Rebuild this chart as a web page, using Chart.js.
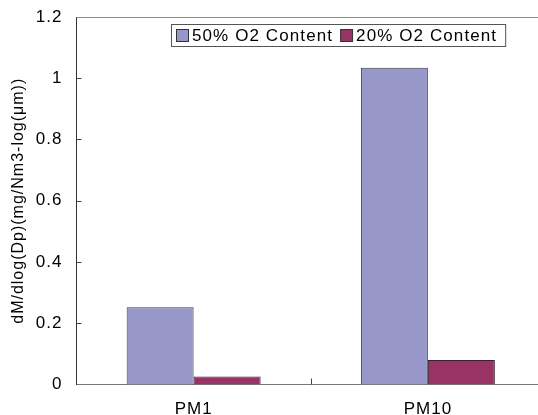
<!DOCTYPE html>
<html>
<head>
<meta charset="utf-8">
<script src="https://cdn.jsdelivr.net/npm/chart.js@4.4.1/dist/chart.umd.min.js"></script>
<style>
  html, body { margin: 0; padding: 0; background: #fff; }
  #wrap { width: 538px; height: 415px; overflow: hidden; }
</style>
</head>
<body>
<div id="wrap"><canvas id="pmChart" width="560" height="415"></canvas></div>
<script>
const categories = ['PM1', 'PM10'];
const seriesNames = ['50% O2 Content', '20% O2 Content'];
const o2High = [0.252, 1.034];
const o2Low = [0.026, 0.080];
const yTicks = ['0', '0.2', '0.4', '0.6', '0.8', '1', '1.2'];

const FONT = 'Liberation Sans, Arial, sans-serif';
const SPACING = '1px';

// loose glyph spacing, set again whenever the canvas state gets reset
const spacingPlugin = {
    id: 'spacing',
    beforeUpdate(chart) { chart.ctx.letterSpacing = SPACING; },
    beforeDraw(chart) { chart.ctx.letterSpacing = SPACING; }
};

// pin the plot rectangle: top edge at 17px, bottom axis at 384.5px
const areaPlugin = {
    id: 'area',
    afterLayout(chart) {
        const a = chart.chartArea;
        const ys = chart.scales.y;
        a.top = 17;
        a.height = a.bottom - a.top;
        ys.top = a.top;
        ys.height = a.bottom - a.top;
        ys.configure();
    }
};

// frame line on top plus the small inward tick marks
const framePlugin = {
    id: 'frame',
    afterDatasetsDraw(chart) {
        const ctx = chart.ctx;
        const area = chart.chartArea;
        const ys = chart.scales.y;
        const xs = chart.scales.x;
        ctx.save();
        ctx.lineWidth = 1;
        ctx.strokeStyle = '#8a8a8a';
        ctx.beginPath();
        ctx.moveTo(area.left, Math.round(area.top) + 0.5);
        ctx.lineTo(area.right, Math.round(area.top) + 0.5);
        ctx.stroke();

        ctx.strokeStyle = '#444';
        ctx.beginPath();
        for (let i = 1; i < yTicks.length - 1; i++) {
            const py = Math.round(ys.getPixelForValue(Number(yTicks[i]))) + 0.5;
            ctx.moveTo(area.left, py);
            ctx.lineTo(area.left + 5, py);
        }
        for (let i = 0; i < categories.length - 1; i++) {
            const px = Math.round(xs.getPixelForValue(i + 0.5)) + 0.5;
            ctx.moveTo(px, area.bottom);
            ctx.lineTo(px, area.bottom - 6);
        }
        ctx.stroke();
        ctx.restore();
    }
};

// boxed legend sitting inside the plot
const boxLegend = {
    id: 'boxLegend',
    afterDraw(chart) {
        const ctx = chart.ctx;
        ctx.save();
        ctx.letterSpacing = '1.1px';
        ctx.font = '17px ' + FONT;
        ctx.textBaseline = 'alphabetic';
        const x0 = 171, y0 = 24, h = 22, sw = 12;
        let x = x0 + 5;
        const items = chart.data.datasets.map(ds => {
            const it = { ds: ds, sx: x, tx: x + sw + 4 };
            x = it.tx + ctx.measureText(ds.label).width + 7;
            return it;
        });
        const w = x - x0 + 1;
        ctx.fillStyle = '#fff';
        ctx.fillRect(x0, y0, w, h);
        ctx.strokeStyle = '#555';
        ctx.lineWidth = 1;
        ctx.strokeRect(x0 + 0.5, y0 + 0.5, w, h);
        items.forEach(it => {
            ctx.fillStyle = it.ds.backgroundColor;
            ctx.fillRect(it.sx + 0.5, y0 + 5.5, sw, sw);
            ctx.strokeStyle = '#333';
            ctx.strokeRect(it.sx + 0.5, y0 + 5.5, sw, sw);
            ctx.fillStyle = '#000';
            ctx.fillText(it.ds.label, it.tx, y0 + 17);
        });
        ctx.restore();
    }
};

new Chart(document.getElementById('pmChart'), {
    type: 'bar',
    data: {
        labels: categories,
        datasets: [{
            label: seriesNames[0],
            data: o2High,
            backgroundColor: '#9797c9',
            borderColor: '#3a3a4a',
            borderWidth: 1
        }, {
            label: seriesNames[1],
            data: o2Low,
            backgroundColor: '#993366',
            borderColor: '#3a2230',
            borderWidth: 1
        }]
    },
    plugins: [spacingPlugin, areaPlugin, framePlugin, boxLegend],
    options: {
        responsive: false,
        animation: false,
        devicePixelRatio: 1,
        layout: { padding: { left: 0, top: 17, right: 15, bottom: 0 } },
        datasets: { bar: { categoryPercentage: 0.572, barPercentage: 1 } },
        plugins: {
            legend: { display: false },
            tooltip: { enabled: false }
        },
        scales: {
            x: {
                afterFit(scale) { scale.height = 30.5; },
                grid: { display: false, drawTicks: false },
                border: { display: true, color: '#777', width: 1 },
                ticks: {
                    color: '#000',
                    padding: 15,
                    font: { family: FONT, size: 17 }
                }
            },
            y: {
                min: 0,
                max: 1.2,
                afterFit(scale) { scale.width = 76.5; },
                afterBuildTicks(scale) {
                    scale.ticks = yTicks.map(t => ({ value: Number(t) }));
                },
                grid: { display: false, drawTicks: false },
                border: { display: true, color: '#333', width: 1 },
                ticks: {
                    color: '#000',
                    padding: 14,
                    font: { family: FONT, size: 17 },
                    callback: (v, i) => yTicks[i]
                },
                title: {
                    display: true,
                    text: 'dM/dlog(Dp)(mg/Nm3-log(μm))',
                    color: '#000',
                    padding: { top: 9 },
                    font: { family: FONT, size: 16 }
                }
            }
        }
    }
});
</script>
</body>
</html>
